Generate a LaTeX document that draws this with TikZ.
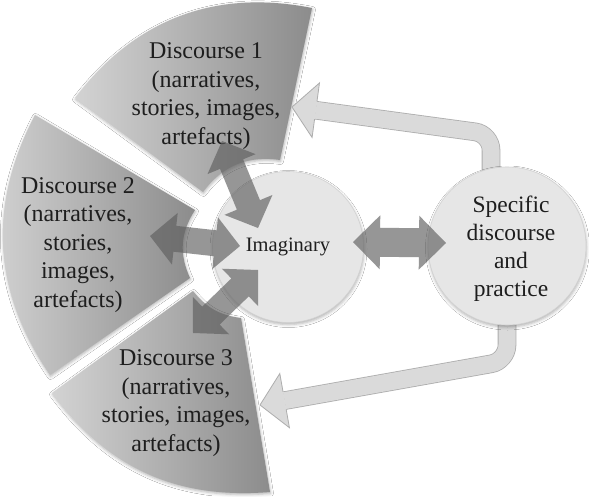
\documentclass[tikz,border=0pt]{standalone}
\usepackage{fontspec}
\setmainfont{Liberation Serif}
\usetikzlibrary{calc,shadows.blur}

\definecolor{secLight}{HTML}{D3D3D3}
\definecolor{secDark}{HTML}{8C8C8C}
\definecolor{circFill}{HTML}{E6E6E6}
\definecolor{circEdge}{HTML}{D2D2D2}
\definecolor{fbFill}{HTML}{DADADA}
\definecolor{fbEdge}{HTML}{ADADAD}
\definecolor{linkGray}{HTML}{5E5E5E}
\definecolor{ink}{HTML}{1E1E1E}

\tikzset{
  sector/.style={left color=secLight, right color=secDark,
    blur shadow={shadow xshift=0.5pt, shadow yshift=-1.5pt,
                 shadow blur radius=3pt, shadow opacity=30}},
  disclabel/.style={font=\fontsize{24}{28.5}\selectfont, align=center,
    text=ink, inner sep=0pt},
  bubble/.style={circle, fill=circFill, draw=circEdge, line width=0.6pt,
    inner sep=0pt, text=ink,
    blur shadow={shadow xshift=0.5pt, shadow yshift=-2pt,
                 shadow blur radius=3pt, shadow opacity=30}},
  fbshaft/.style={draw=fbEdge, double=fbFill, double distance=17pt,
    line width=0.8pt, rounded corners=16pt},
  fbedge/.style={draw=fbEdge, line width=0.8pt, line join=miter},
  linkarrow/.style={fill=linkGray, fill opacity=0.65},
}

% double-headed block arrow: #1,#2 tips, #3 head length,
% #4 head half width, #5 shaft half width
\newcommand{\dblblock}[5]{%
  \path ($(#1)!#3!(#2)$) coordinate (hA) ($(#2)!#3!(#1)$) coordinate (hB);
  \fill[linkarrow] (#1) -- ($(hA)!#4!90:(#2)$) -- ($(hA)!#5!90:(#2)$)
     -- ($(hB)!#5!-90:(#1)$) -- ($(hB)!#4!-90:(#1)$) -- (#2)
     -- ($(hB)!#4!90:(#1)$) -- ($(hB)!#5!90:(#1)$)
     -- ($(hA)!#5!-90:(#2)$) -- ($(hA)!#4!-90:(#2)$) -- cycle;}

% head of an outlined feedback arrow: #1 tip, #2 base centre
\newcommand{\fbarrowhead}[2]{%
  \fill[fbFill] ($(#2)!27.5pt!90:(#1)$) -- (#1) -- ($(#2)!27.5pt!-90:(#1)$) -- cycle;
  \draw[fbedge] ($(#2)!8.9pt!90:(#1)$) -- ($(#2)!27.5pt!90:(#1)$) -- (#1)
     -- ($(#2)!27.5pt!-90:(#1)$) -- ($(#2)!8.9pt!-90:(#1)$);}

\begin{document}
\begin{tikzpicture}[x=1pt, y=-1pt]
\fill[white] (0,0) rectangle (589,496);
\useasboundingbox (0,0) rectangle (589,496);

% three discourse segments
\path[sector] (75,98) to[bend left=32] (312,8) -- (280,160)
   to[bend right=31] (203,192) -- cycle;
\path[sector] (35,115) -- (195,210) to[bend right=29] (190,278)
   -- (50,375) to[bend left=31] (35,115) -- cycle;
\path[sector] (52,393) -- (193,291) to[bend right=22] (241,318)
   -- (270,492) to[bend left=29] (52,393) -- cycle;

\node[disclabel] (d1) at (206,96) {Discourse 1\\(narratives,\\stories, images,\\artefacts)};
\node[disclabel] (d2) at (78,245) {Discourse 2\\(narratives,\\stories,\\images,\\artefacts)};
\node[disclabel] (d3) at (176,403) {Discourse 3\\(narratives,\\stories, images,\\artefacts)};

% feedback arrows from the practice circle back to the discourses
\coordinate (fbTopStart) at (491,200);
\coordinate (fbTopBend) at (491,134);
\coordinate (fbTopTip) at (292,107);
\coordinate (fbTopBase) at ($(fbTopTip)!24pt!(fbTopBend)$);
\draw[fbshaft] (fbTopStart) -- (fbTopBend) -- (fbTopBase);
\fbarrowhead{fbTopTip}{fbTopBase}

\coordinate (fbBotStart) at (507,300);
\coordinate (fbBotBend) at (507,361);
\coordinate (fbBotTip) at (260,405);
\coordinate (fbBotBase) at ($(fbBotTip)!25pt!(fbBotBend)$);
\draw[fbshaft] (fbBotStart) -- (fbBotBend) -- (fbBotBase);
\fbarrowhead{fbBotTip}{fbBotBase}

% circles
\node[bubble, minimum size=151pt, font=\fontsize{20.5}{24}\selectfont] (imag) at (288,247) {Imaginary};
\node[bubble, minimum size=158pt] (spec) at (507,246) {};
\node[disclabel, font=\fontsize{23.5}{28}\selectfont] (spectext) at (511,249)
  {Specific\\discourse\\and\\practice};

% links between the imaginary and the discourses
\coordinate (d1end) at (222,141);
\coordinate (im1end) at (258,228);
\coordinate (d2end) at (150,236);
\coordinate (im2end) at (240,246);
\coordinate (d3end) at (193,333);
\coordinate (im3end) at (258,270);
\coordinate (imRight) at (353,242);
\coordinate (spLeft) at (446,243);

\dblblock{d1end}{im1end}{25pt}{26pt}{12.5pt}
\dblblock{d2end}{im2end}{25pt}{26pt}{13pt}
\dblblock{d3end}{im3end}{25pt}{26pt}{12.5pt}
\dblblock{imRight}{spLeft}{27pt}{27pt}{14.5pt}
\end{tikzpicture}
\end{document}
